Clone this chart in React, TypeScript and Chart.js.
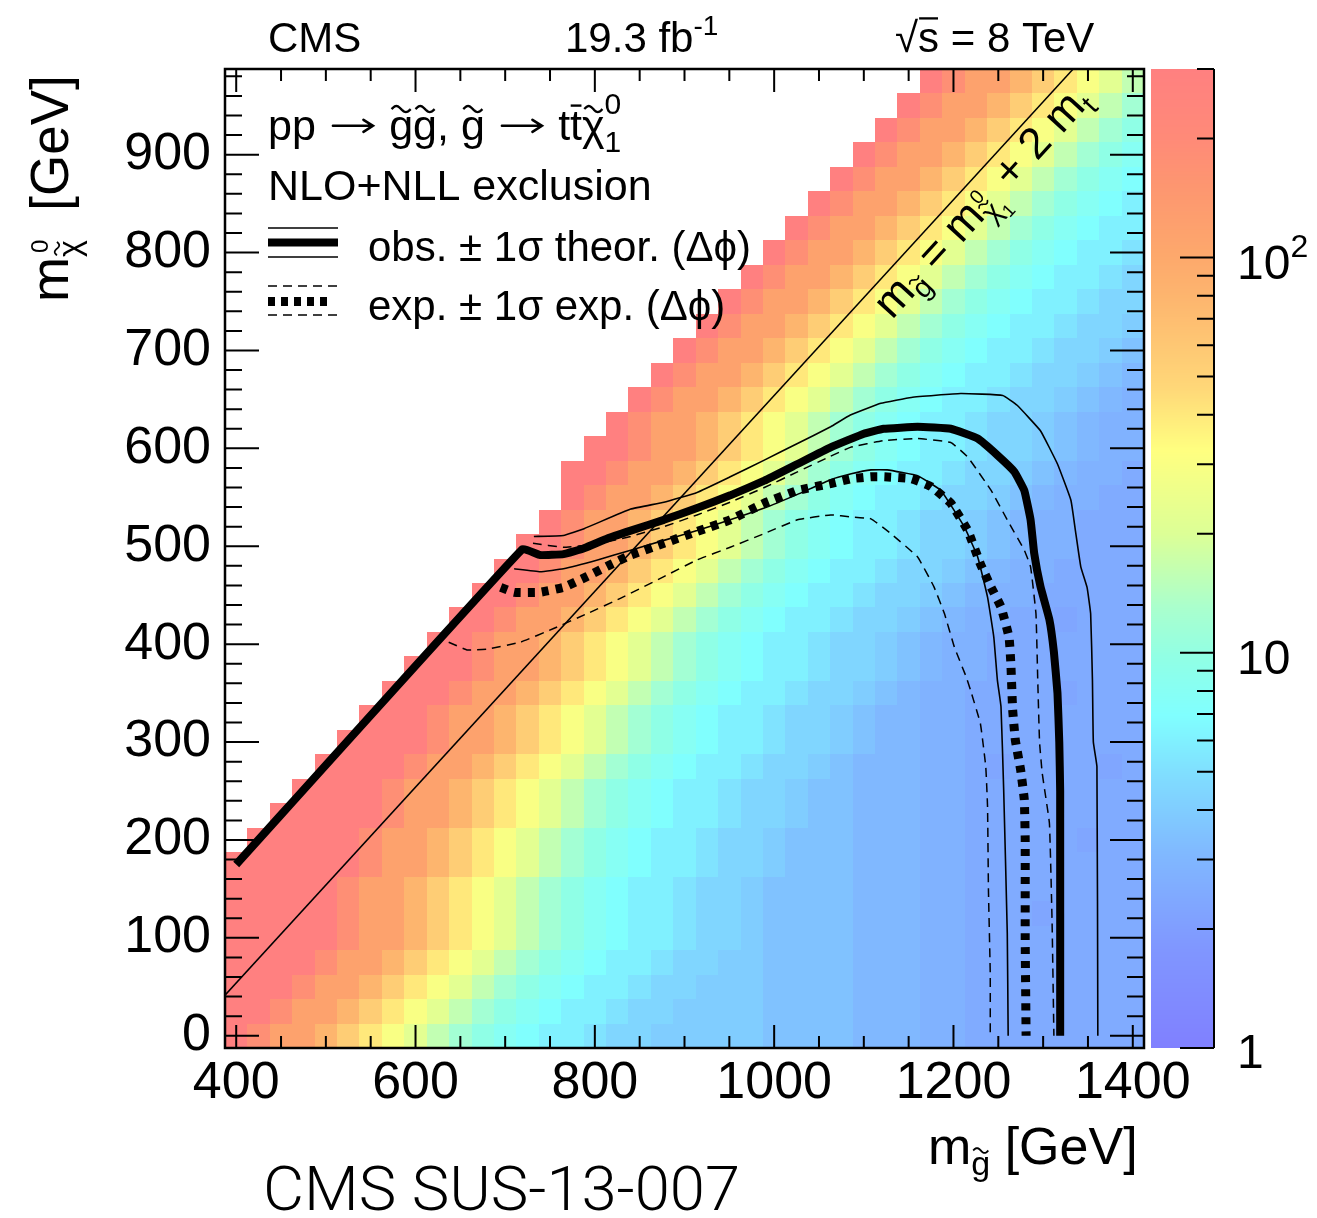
import React, { useEffect, useRef } from "react";
import { Chart, registerables } from "chart.js";

Chart.register(...registerables);

// ---------------- data ----------------
const gluinoMasses = [400, 425, 450, 475, 500, 525, 550, 575, 600, 625, 650, 675, 700, 725, 750, 775, 800, 825, 850, 875, 900, 925, 950, 975, 1000, 1025, 1050, 1075, 1100, 1125, 1150, 1175, 1200, 1225, 1250, 1275, 1300, 1325, 1350, 1375, 1400];
const lspMasses = [0, 25, 50, 75, 100, 125, 150, 175, 200, 225, 250, 275, 300, 325, 350, 375, 400, 425, 450, 475, 500, 525, 550, 575, 600, 625, 650, 675, 700, 725, 750, 775, 800, 825, 850, 875, 900, 925, 950, 975];

// cross-section upper limit levels [fb], coded by letter
const levelCodes = "ABCDEFGHIJKLMNOPQRSTUV";
const levelLimits = [300, 180, 115, 80, 55, 40, 30, 22, 16, 12, 9.5, 8, 7, 6, 5.2, 4.5, 4.0, 3.5, 3.1, 2.8, 2.5, 2.3];

// one string per LSP mass row (bottom to top); each row ends at the last gluino mass
const limitRows = [
  "ABCCDEFGHIJKLMNNOPPQQQQQRRRRSSSTTUUUUUUUU",
  "AABCCDEFGHIJKLMNNOPPQQQQRRRRSSSTTUUUUUUUU",
  "AAABCCDEFGHIJKLMNNOPPQQQRRRRSSSTTUUUUUUUU",
  "AAAABCCDEFGHIJKLMNNOPPQQRRRRSSSTTUUUUUUUU",
  "AAAAABCCDEFGHIJKLMNNOPPQRRRRSSSTTUUUUUUUU",
  "AAAAABCCDEFGHIJKLMNNOPPQRRRRSSSTTUUUVUUUU",
  "AAAAABCCDEFGHIJKLMNNOPPQRRRRSSSTTUUUUUUUU",
  "AAAAAABCCDEFGHIJKLMNNOPPQRRRSSSTTUUUUUUUU",
  "AAAAABCCDEFGHIJKLMNNOPPQRRRSSSTTUUUUUVUU",
  "AAAAABCCDEFGHIJKLMNNOPPQRRSSSTTUUUUUUUU",
  "AAAABCCDEFGHIJKLMNNOPPQRRSSSTTUUUUUUUU",
  "AAAABCCDEFGHIJKLMNNOPPQRSSSTTUVUUUUVU",
  "AAAABCCDEFGHIJKLMNNOPPQRSSTTUUUUUUUU",
  "AAABCCDEFGHIJKLMNNOPPQRSSTTUUUUUUUU",
  "AAABCCDEFGHIJKLMNNOPPQRSTTUUUUVUUU",
  "AAABCCDEFGHIJKLMNNOPPQRSTTUUUUUUU",
  "AABCCDEFGHIJKLMNNOPPQRSTTUUUUUUU",
  "AABCCDEFGHIJKLMNNOPPQRSTTUUVUUU",
  "AABCCDEFGHIJKLMNNOPPQRSTTUUUUU",
  "AABCCDEFGHIJKLMNNOPPQRSTTUUUU",
  "AABCCDEFGHIJKLMNNOPPQRSTTUUU",
  "ABCCDEFGHIJKLMNNOPPQRSTTUUU",
  "ABCCDEFGHIJKLMNNOPPQRSTTUU",
  "AABCCDEFGHIJKLMNNOPPQRSTTU",
  "AABCCDEFGHIJKLMNNOPPQRSTT",
  "ABCCDEFGHIJKLMNNOPPQRSTT",
  "ABCCDEFGHIJKLMNNOPPQRST",
  "ABCCDEFGHIJKLMNNOPPQRS",
  "ABCCDEFGHIJKLMNNOPPQR",
  "ABCCDEFGHIJKLMNNOPPQ",
  "ABCCDEFGHIJKLMNNOPP",
  "ABCCDEFGHIJKLMNNOP",
  "ABCCDEFGHIJKLMNNO",
  "ABCCDEFGHIJKLMNN",
  "ABCCDEFGHIJKLMN",
  "ABCCDEFGHIJKLM",
  "ABCCDEFGHIJKL",
  "ABCCDEFGHIJK",
  "ABCCDEFGHIJ",
  "ABCCDEFGHI",
];

const xTickValues = [400, 600, 800, 1000, 1200, 1400];
const yTickValues = [0, 100, 200, 300, 400, 500, 600, 700, 800, 900];
const zRange = [1, 300];
const zMajorTicks = [1, 10, 100];
const zMinorTicks = [2, 3, 4, 5, 6, 7, 8, 9, 20, 30, 40, 50, 60, 70, 80, 90, 200, 300];

// m_gluino = m_LSP + 2 m_top
const kinematicLine = [[387.5, 41.5], [1333.5, 987.5]];

const observed = [[400, 175], [719, 497], [739, 491], [765, 492], [788, 498], [814, 508], [840, 516], [877, 527], [914, 539], [951, 552], [989, 567], [1026, 584], [1063, 601], [1100, 615], [1122, 620], [1160, 622], [1197, 620], [1227, 610], [1249, 593], [1268, 576], [1279, 557], [1286, 527], [1290, 493], [1297, 459], [1307, 425], [1312, 392], [1316, 350], [1318, 300], [1319, 250], [1319, 0]];
const observedPlus = [[732, 510], [765, 511], [788, 518], [840, 538], [877, 545], [914, 555], [951, 571], [989, 588], [1026, 605], [1063, 622], [1085, 634], [1119, 646], [1153, 652], [1208, 656], [1255, 654], [1271, 644], [1297, 618], [1316, 584], [1331, 547], [1336, 516], [1342, 479], [1349, 458], [1353, 431], [1355, 363], [1356, 300], [1360, 275], [1361, 0]];
const observedMinus = [[710, 477], [739, 474], [765, 477], [803, 486], [840, 496], [877, 506], [914, 516], [951, 527], [989, 539], [1026, 553], [1063, 568], [1086, 574], [1108, 578], [1126, 578], [1160, 572], [1186, 557], [1212, 520], [1227, 489], [1238, 448], [1245, 407], [1249, 363], [1253, 336], [1256, 251], [1260, 105], [1261, 0]];
const expected = [[695, 458], [710, 453], [739, 453], [765, 458], [791, 469], [817, 481], [840, 491], [877, 503], [914, 515], [951, 527], [989, 544], [1026, 557], [1063, 564], [1086, 569], [1108, 571], [1123, 571], [1153, 569], [1175, 561], [1197, 544], [1216, 516], [1230, 482], [1242, 458], [1253, 438], [1262, 407], [1264, 380], [1266, 333], [1269, 302], [1275, 271], [1279, 241], [1280, 200], [1280, 98], [1281, 0]];
const expectedPlus = [[731, 503], [765, 499], [800, 502], [840, 510], [877, 520], [914, 532], [951, 545], [989, 560], [1026, 576], [1063, 592], [1085, 601], [1122, 608], [1160, 610], [1197, 606], [1216, 591], [1242, 557], [1260, 527], [1279, 496], [1286, 479], [1292, 431], [1294, 363], [1296, 300], [1299, 268], [1307, 217], [1310, 115], [1312, 0]];
const expectedMinus = [[637, 402], [658, 394], [680, 395], [717, 402], [754, 416], [791, 431], [829, 447], [877, 469], [914, 486], [951, 499], [989, 513], [1026, 527], [1063, 532], [1086, 530], [1108, 528], [1130, 513], [1160, 489], [1178, 459], [1190, 431], [1201, 397], [1214, 367], [1219, 353], [1230, 319], [1236, 275], [1238, 234], [1239, 149], [1241, 64], [1241, 0]];

// ---------------- style ----------------
const FONT = '"Liberation Sans", Arial, Helvetica, sans-serif';
const paletteStops: number[][] = [
  [0.0, 128, 128, 255],
  [0.1, 128, 150, 255],
  [0.2, 128, 185, 255],
  [0.28, 128, 222, 255],
  [0.34, 128, 255, 255],
  [0.4, 145, 255, 228],
  [0.45, 170, 255, 205],
  [0.525, 220, 255, 150],
  [0.61, 255, 255, 128],
  [0.675, 255, 215, 120],
  [0.77, 253, 180, 110],
  [0.81, 253, 168, 108],
  [0.88, 253, 150, 112],
  [0.93, 255, 138, 120],
  [1.0, 255, 128, 128],
];

function zColour(z: number): string {
  let t = Math.log(z / zRange[0]) / Math.log(zRange[1] / zRange[0]);
  t = Math.max(0, Math.min(1, t));
  for (let i = 1; i < paletteStops.length; i++) {
    const a = paletteStops[i - 1];
    const b = paletteStops[i];
    if (t <= b[0]) {
      const f = (t - a[0]) / (b[0] - a[0]);
      const r = Math.round(a[1] + (b[1] - a[1]) * f);
      const g = Math.round(a[2] + (b[2] - a[2]) * f);
      const bl = Math.round(a[3] + (b[3] - a[3]) * f);
      return `rgb(${r},${g},${bl})`;
    }
  }
  return "rgb(255,128,128)";
}

type Seg = { t: string; size: number; dy?: number; dx?: number; tilde?: boolean; bar?: boolean; arrow?: boolean; adv?: boolean; weight?: string };

function drawTilde(ctx: CanvasRenderingContext2D, cx: number, cy: number, w: number, amp: number, lw: number) {
  ctx.save();
  ctx.lineWidth = lw;
  ctx.beginPath();
  for (let i = 0; i <= 24; i++) {
    const t = i / 24;
    const px = cx - w / 2 + w * t;
    const py = cy - amp * Math.sin(2 * Math.PI * t);
    if (i === 0) ctx.moveTo(px, py);
    else ctx.lineTo(px, py);
  }
  ctx.stroke();
  ctx.restore();
}

function drawSegs(ctx: CanvasRenderingContext2D, x0: number, y0: number, segs: Seg[]): number {
  let x = x0;
  ctx.textAlign = "left";
  ctx.textBaseline = "alphabetic";
  for (const s of segs) {
    ctx.font = `${s.weight ?? "normal"} ${s.size}px ${FONT}`;
    const bx = x + (s.dx ?? 0);
    const by = y0 + (s.dy ?? 0);
    if (s.arrow) {
      // long right arrow, drawn as a line with a head
      const w = s.size * 1.15;
      const ay = by - s.size * 0.33;
      const x1 = bx + s.size * 0.12;
      const x2 = bx + w - s.size * 0.1;
      ctx.save();
      ctx.lineWidth = Math.max(1.5, s.size * 0.06);
      ctx.lineCap = "round";
      ctx.beginPath();
      ctx.moveTo(x1, ay);
      ctx.lineTo(x2, ay);
      ctx.moveTo(x2 - s.size * 0.22, ay - s.size * 0.14);
      ctx.lineTo(x2, ay);
      ctx.lineTo(x2 - s.size * 0.22, ay + s.size * 0.14);
      ctx.stroke();
      ctx.restore();
      if (s.adv !== false) x = bx + w;
      continue;
    }
    const w = ctx.measureText(s.t).width;
    ctx.fillText(s.t, bx, by);
    if (s.tilde) drawTilde(ctx, bx + w / 2, by - s.size * 0.72, w * 0.8, s.size * 0.07, Math.max(1.2, s.size * 0.055));
    if (s.bar) {
      ctx.save();
      ctx.lineWidth = Math.max(1.2, s.size * 0.055);
      ctx.beginPath();
      ctx.moveTo(bx + w * 0.05, by - s.size * 0.8);
      ctx.lineTo(bx + w * 0.95, by - s.size * 0.8);
      ctx.stroke();
      ctx.restore();
    }
    if (s.adv !== false) x = bx + w;
  }
  return x;
}

const decorPlugin = {
  id: "cmsDecor",
  beforeDatasetsDraw(chart: any) {
    const { ctx, chartArea: a, scales } = chart;
    const xs = scales.x;
    const ys = scales.y;
    ctx.save();
    ctx.beginPath();
    ctx.rect(a.left, a.top, a.right - a.left, a.bottom - a.top);
    ctx.clip();
    const hx = (gluinoMasses[1] - gluinoMasses[0]) / 2;
    const hy = (lspMasses[1] - lspMasses[0]) / 2;
    limitRows.forEach((row, j) => {
      const m = lspMasses[j];
      const start = gluinoMasses.length - row.length;
      const yTop = Math.round(ys.getPixelForValue(m + hy));
      const yBot = Math.round(ys.getPixelForValue(m - hy));
      for (let k = 0; k < row.length; k++) {
        const mg = gluinoMasses[start + k];
        const z = levelLimits[levelCodes.indexOf(row[k])];
        const xl = Math.round(xs.getPixelForValue(mg - hx));
        const xr = Math.round(xs.getPixelForValue(mg + hx));
        ctx.fillStyle = zColour(z);
        ctx.fillRect(xl, yTop, xr - xl, yBot - yTop);
      }
    });
    ctx.restore();
  },
  afterDatasetsDraw(chart: any) {
    const { ctx, chartArea: a, scales } = chart;
    const xs = scales.x;
    const ys = scales.y;
    ctx.save();
    ctx.strokeStyle = "#000";
    ctx.fillStyle = "#000";
    ctx.setLineDash([]);

    // inward ticks on all four sides
    ctx.lineWidth = 2;
    ctx.beginPath();
    for (let v = 400; v <= 1400; v += 50) {
      const px = xs.getPixelForValue(v);
      const len = v % 200 === 0 ? 23 : 12;
      ctx.moveTo(px, a.bottom);
      ctx.lineTo(px, a.bottom - len);
      ctx.moveTo(px, a.top);
      ctx.lineTo(px, a.top + len);
    }
    for (let v = 0; v <= 980; v += 20) {
      const py = ys.getPixelForValue(v);
      const len = v % 100 === 0 ? 34 : 17;
      ctx.moveTo(a.left, py);
      ctx.lineTo(a.left + len, py);
      ctx.moveTo(a.right, py);
      ctx.lineTo(a.right - len, py);
    }
    ctx.stroke();
    ctx.lineWidth = 2.5;
    ctx.strokeRect(a.left, a.top, a.right - a.left, a.bottom - a.top);

    // colour bar
    const cbL = a.right + 7;
    const cbR = a.right + 70;
    const cbT = a.top;
    const cbB = a.bottom;
    const lz = Math.log10(zRange[1] / zRange[0]);
    for (let py = cbT; py < cbB; py++) {
      const f = (cbB - (py + 0.5)) / (cbB - cbT);
      ctx.fillStyle = zColour(zRange[0] * Math.pow(10, f * lz));
      ctx.fillRect(cbL, py, cbR - cbL, 1);
    }
    ctx.fillStyle = "#000";
    const zPix = (z: number) => cbB - (Math.log10(z / zRange[0]) / lz) * (cbB - cbT);
    ctx.lineWidth = 2;
    ctx.beginPath();
    ctx.moveTo(cbR, cbT);
    ctx.lineTo(cbR, cbB);
    zMajorTicks.forEach((z) => {
      const py = zPix(z);
      ctx.moveTo(cbR, py);
      ctx.lineTo(cbR - 34, py);
    });
    zMinorTicks.forEach((z) => {
      const py = zPix(z);
      ctx.moveTo(cbR, py);
      ctx.lineTo(cbR - 17, py);
    });
    ctx.stroke();
    drawSegs(ctx, cbR + 23, zPix(1) + 20, [{ t: "1", size: 48 }]);
    drawSegs(ctx, cbR + 23, zPix(10) + 21, [{ t: "10", size: 48 }]);
    drawSegs(ctx, cbR + 23, zPix(100) + 21, [{ t: "10", size: 48 }, { t: "2", size: 32, dy: -22 }]);

    // top labels
    drawSegs(ctx, 268, 52, [{ t: "CMS", size: 42 }]);
    drawSegs(ctx, 565, 52, [{ t: "19.3 fb", size: 42 }, { t: "-1", size: 28, dy: -17 }]);
    drawSegs(ctx, 895, 52, [{ t: "\u221A", size: 42 }, { t: "s", size: 42, bar: true }, { t: " = 8 TeV", size: 42 }]);

    // legend
    drawSegs(ctx, 268, 140, [
      { t: "pp ", size: 43 },
      { t: "", size: 43, arrow: true },
      { t: " ", size: 43 },
      { t: "g", size: 43, tilde: true },
      { t: "g", size: 43, tilde: true },
      { t: ", ", size: 43 },
      { t: "g", size: 43, tilde: true },
      { t: " ", size: 43 },
      { t: "", size: 43, arrow: true },
      { t: " ", size: 43 },
      { t: "t", size: 43 },
      { t: "t", size: 43, bar: true },
      { t: "\u03C7", size: 43, tilde: true },
      { t: "0", size: 30, dy: -26, adv: false },
      { t: "1", size: 30, dy: 12 },
    ]);
    drawSegs(ctx, 268, 200, [{ t: "NLO+NLL exclusion", size: 43 }]);
    drawSegs(ctx, 368, 261, [{ t: "obs. \u00B1 1\u03C3 theor. (\u0394\u03D5)", size: 42 }]);
    drawSegs(ctx, 368, 320, [{ t: "exp. \u00B1 1\u03C3 exp. (\u0394\u03D5)", size: 42 }]);

    ctx.lineCap = "butt";
    ctx.beginPath();
    ctx.lineWidth = 8;
    ctx.moveTo(268, 242.5);
    ctx.lineTo(338, 242.5);
    ctx.stroke();
    ctx.beginPath();
    ctx.lineWidth = 1.6;
    ctx.moveTo(268, 228);
    ctx.lineTo(338, 228);
    ctx.moveTo(268, 257);
    ctx.lineTo(338, 257);
    ctx.stroke();
    ctx.beginPath();
    ctx.setLineDash([7, 6]);
    ctx.lineWidth = 9;
    ctx.moveTo(268, 301.5);
    ctx.lineTo(333, 301.5);
    ctx.stroke();
    ctx.beginPath();
    ctx.setLineDash([9, 6]);
    ctx.lineWidth = 1.6;
    ctx.moveTo(268, 286);
    ctx.lineTo(338, 286);
    ctx.moveTo(268, 315);
    ctx.lineTo(338, 315);
    ctx.stroke();
    ctx.setLineDash([]);

    // diagonal label along the kinematic line
    const p0x = xs.getPixelForValue(kinematicLine[0][0]);
    const p0y = ys.getPixelForValue(kinematicLine[0][1]);
    const p1x = xs.getPixelForValue(kinematicLine[1][0]);
    const p1y = ys.getPixelForValue(kinematicLine[1][1]);
    const ang = Math.atan2(p1y - p0y, p1x - p0x);
    const dxn = Math.cos(ang);
    const dyn = Math.sin(ang);
    const f = 0.755;
    const ax = p0x + (p1x - p0x) * f + 36 * -dyn;
    const ay = p0y + (p1y - p0y) * f + 36 * dxn;
    ctx.save();
    ctx.translate(ax, ay);
    ctx.rotate(ang);
    drawSegs(ctx, 0, 0, [
      { t: "m", size: 44 },
      { t: "g", size: 29, dy: 10, tilde: true },
      { t: " = m", size: 44 },
      { t: "0", size: 20, dy: -14, dx: 3, adv: false },
      { t: "\u03C7", size: 29, dy: 10, tilde: true },
      { t: "1", size: 18, dy: 18 },
      { t: " + 2 m", size: 44 },
      { t: "t", size: 29, dy: 10 },
    ]);
    ctx.restore();

    // axis titles
    drawSegs(ctx, 928, 1164, [
      { t: "m", size: 52 },
      { t: "g", size: 34, dy: 11, tilde: true },
      { t: " [GeV]", size: 52 },
    ]);
    ctx.save();
    ctx.translate(68, 302);
    ctx.rotate(-Math.PI / 2);
    drawSegs(ctx, 0, 0, [
      { t: "m", size: 54 },
      { t: "0", size: 24, dy: -20, dx: 4, adv: false },
      { t: "\u03C7", size: 32, dy: 12, tilde: true },
      { t: "  [GeV]", size: 53 },
    ]);
    ctx.restore();

    // publication tag, stretched to the reference width
    ctx.fillStyle = "#000";
    ctx.font = `300 61px Roboto, ${FONT}`;
    ctx.textAlign = "left";
    ctx.textBaseline = "alphabetic";
    const tag = "CMS SUS-13-007";
    const tw = ctx.measureText(tag).width;
    ctx.save();
    ctx.translate(263, 1210);
    ctx.scale(477 / tw, 1);
    ctx.fillText(tag, 0, 0);
    ctx.restore();
    ctx.restore();
  },
};

const toPts = (arr: number[][]) => arr.map(([x, y]) => ({ x, y }));

export default function App() {
  const ref = useRef<HTMLCanvasElement>(null);
  useEffect(() => {
    if (!ref.current) return;
    const line = (data: number[][], width: number, dash: number[] = [], tension = 0.1) => ({
      data: toPts(data),
      showLine: true,
      borderColor: "#000",
      backgroundColor: "#000",
      borderWidth: width,
      borderDash: dash,
      borderJoinStyle: "round" as const,
      pointRadius: 0,
      tension,
      fill: false,
    });
    const chart = new Chart(ref.current, {
      type: "scatter",
      data: {
        datasets: [
          line(observed, 8, [], 0.1),
          line(expected, 9, [7, 7], 0.1),
          line(observedPlus, 1.6),
          line(observedMinus, 1.6),
          line(expectedPlus, 1.5, [9, 6]),
          line(expectedMinus, 1.5, [9, 6]),
          line(kinematicLine, 1.5, [], 0),
        ],
      },
      options: {
        animation: false,
        responsive: false,
        devicePixelRatio: 1,
        events: [],
        layout: { padding: { top: 69, right: 173, left: 0, bottom: 0 } },
        plugins: { legend: { display: false }, tooltip: { enabled: false } },
        scales: {
          x: {
            type: "linear",
            min: 387.5,
            max: 1412.5,
            grid: { display: false, drawTicks: false },
            border: { display: false },
            ticks: {
              color: "#000",
              font: { family: FONT, size: 52 },
              padding: 4,
              maxRotation: 0,
              autoSkip: false,
              callback: (v: any) => String(v),
            },
            afterBuildTicks: (s: any) => {
              s.ticks = xTickValues.map((v) => ({ value: v }));
            },
            afterFit: (s: any) => {
              s.height = 170;
            },
          },
          y: {
            type: "linear",
            min: -12.5,
            max: 987.5,
            grid: { display: false, drawTicks: false },
            border: { display: false },
            ticks: {
              color: "#000",
              font: { family: FONT, size: 52 },
              padding: 14,
              autoSkip: false,
              callback: (v: any) => String(v),
            },
            afterBuildTicks: (s: any) => {
              s.ticks = yTickValues.map((v) => ({ value: v }));
            },
            afterFit: (s: any) => {
              s.width = 225;
            },
          },
        },
      },
      plugins: [decorPlugin],
    } as any);
    return () => chart.destroy();
  }, []);
  return (
    <div style={{ position: "absolute", left: 0, top: 0, width: 1317, height: 1218, background: "#fff" }}>
      <canvas ref={ref} width={1317} height={1218} style={{ display: "block" }} />
    </div>
  );
}
